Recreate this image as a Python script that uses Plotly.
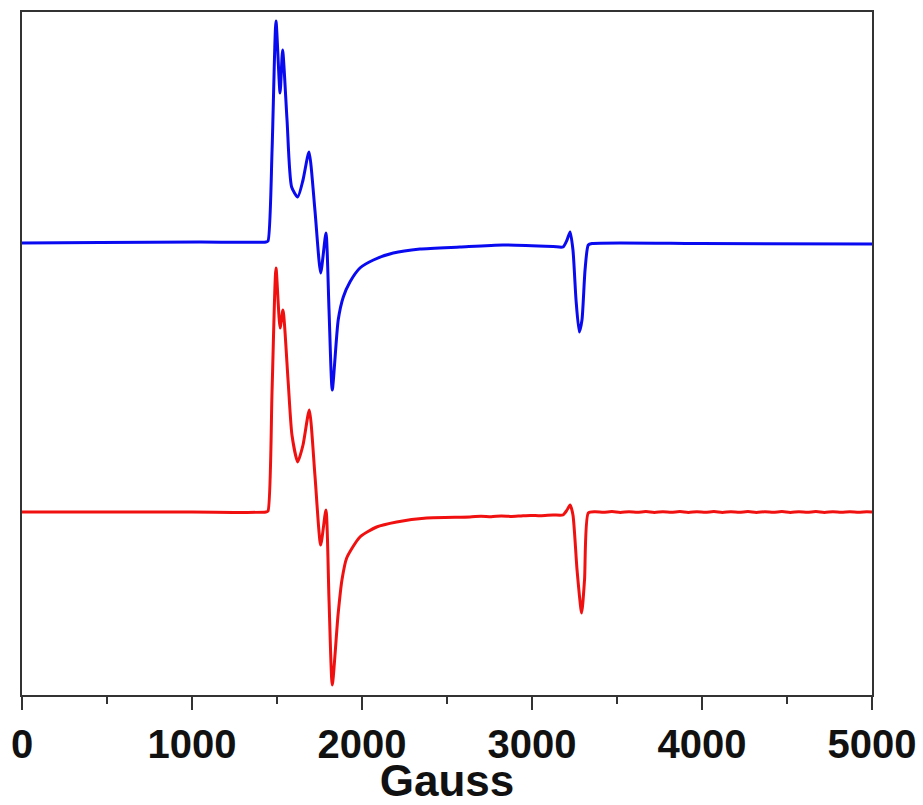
import plotly.graph_objects as go

# Field (Gauss) and EPR signal (arbitrary units, traces stacked with offsets)
blue_field = [0, 459, 1047, 1435, 1447, 1471, 1494, 1518, 1533, 1559, 1586, 1622, 1653, 1688,
              1723, 1757, 1788, 1806, 1825, 1860, 1890, 1929, 1988, 2067, 2184, 2341, 2576,
              2829, 3124, 3182, 3206, 3224, 3241, 3259, 3278, 3294, 3312, 3331, 3353, 3988, 5000]
blue_signal = [452, 452.5, 453, 453, 454, 545, 674, 602, 645, 575, 508, 498, 515, 543,
               485, 422, 462, 385, 305, 375, 398, 413, 427, 435, 442, 446, 448,
               450, 448.5, 448, 455, 463, 445, 395, 363, 375, 425, 450, 451.5, 451.5, 451]

red_field = [0, 1000, 1435, 1447, 1471, 1494, 1518, 1535, 1565, 1588, 1622, 1653, 1690,
             1723, 1757, 1788, 1806, 1825, 1859, 1882, 1910, 1988, 2086, 2204, 2381, 2635,
             2700, 2760, 2820, 2880, 2929, 2990, 3050, 3124, 3182, 3206, 3224, 3241, 3265,
             3292, 3309, 3331, 3370, 3420, 3470, 3520, 3570, 3620, 3670, 3720, 3770, 3820,
             3870, 3920, 3970, 4020, 4070, 4120, 4170, 4220, 4270, 4320, 4370, 4420, 4470,
             4520, 4570, 4620, 4670, 4720, 4770, 4820, 4870, 4920, 4970, 5000]
red_signal = [183, 183, 183, 184, 305, 427, 367, 385, 315, 260, 233, 250, 285,
              220, 150, 185, 95, 10, 80, 115, 137, 158, 168, 173, 177, 178,
              178.8, 178.3, 179.1, 178.6, 179, 179.6, 179.2, 180, 180, 185, 190, 180, 125,
              82, 115, 182, 183.3, 182.7, 183.4, 182.6, 183.3, 182.7, 183.4, 182.6, 183.3,
              182.7, 183.4, 182.6, 183.3, 182.7, 183.4, 182.6, 183.3, 182.7, 183.4, 182.6,
              183.3, 182.7, 183.4, 182.6, 183.3, 182.7, 183.4, 182.6, 183.3, 182.7, 183.3,
              182.8, 183.2, 183]

x_ticks = [0, 1000, 2000, 3000, 4000, 5000]

fig = go.Figure()
fig.add_trace(go.Scatter(x=blue_field, y=blue_signal, mode="lines",
                         line=dict(color="#0a0af0", width=3, shape="spline", smoothing=0.6),
                         showlegend=False))
fig.add_trace(go.Scatter(x=red_field, y=red_signal, mode="lines",
                         line=dict(color="#f01010", width=3, shape="spline", smoothing=0.6),
                         showlegend=False))

axis_color = "#333333"
fig.update_layout(
    width=923, height=805,
    margin=dict(l=22, r=51, t=12, b=110),
    paper_bgcolor="white", plot_bgcolor="white",
    xaxis=dict(
        range=[0, 5000], tickvals=x_ticks, ticktext=[str(v) for v in x_ticks],
        automargin=False,
        ticks="outside", ticklen=13, tickwidth=2, tickcolor=axis_color,
        showline=True, linewidth=2.2, linecolor=axis_color, mirror=True,
        showgrid=False, zeroline=False,
        minor=dict(dtick=500, tick0=0, ticks="outside", ticklen=7, tickwidth=2,
                   tickcolor=axis_color, showgrid=False),
        tickfont=dict(family="Liberation Sans", size=40, color="#111111", weight="bold"),
        title=dict(text="Gauss", standoff=4,
                   font=dict(family="Liberation Sans", size=44, color="#111111", weight="bold")),
    ),
    yaxis=dict(
        range=[0, 683], showticklabels=False, ticks="", automargin=False,
        showline=True, linewidth=2.2, linecolor=axis_color, mirror=True,
        showgrid=False, zeroline=False,
    ),
)

fig.write_html("out.html")
